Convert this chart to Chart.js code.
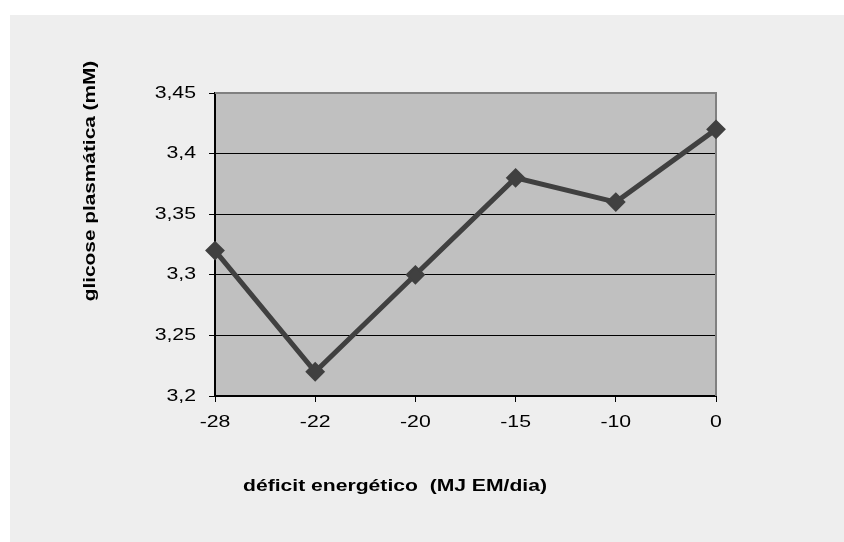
<!DOCTYPE html>
<html>
<head>
<meta charset="utf-8">
<script src="https://cdn.jsdelivr.net/npm/chart.js@4/dist/chart.umd.min.js"></script>
<style>
  html, body { margin: 0; padding: 0; background: #ffffff; }
  #panel { position: absolute; left: 10px; top: 15px; width: 834px; height: 527px; background: #eeeeee; }
</style>
</head>
<body>
<div id="panel"><canvas id="chart" width="834" height="527"></canvas></div>
<script>
const categories = ['-28', '-22', '-20', '-15', '-10', '0'];
const glucoseValues = [3.32, 3.22, 3.30, 3.38, 3.36, 3.42];
const yTitle = 'glicose plasmática (mM)';
const xTitle = 'déficit energético  (MJ EM/dia)';

const FONT = '"Liberation Sans", Arial, sans-serif';
// the source font is noticeably wider than Arial, so text is stretched sideways
const STRETCH = 1.25;

const fmtTick = (v) => String(Math.round(v * 100) / 100).replace('.', ',');

const drawWide = (ctx, text, x, y, align, stretch) => {
  ctx.save();
  ctx.translate(x, y);
  ctx.scale(stretch, 1);
  ctx.textAlign = align;
  ctx.fillText(text, 0, 0);
  ctx.restore();
};

const plotBackground = {
  id: 'plotBackground',
  beforeDraw(chart) {
    const { ctx, chartArea: a } = chart;
    ctx.save();
    ctx.fillStyle = '#c0c0c0';
    ctx.fillRect(a.left, a.top, a.right - a.left, a.bottom - a.top);
    ctx.restore();
  },
  beforeDatasetsDraw(chart) {
    const { ctx, chartArea: a } = chart;
    ctx.save();
    ctx.strokeStyle = '#808080';
    ctx.lineWidth = 2;
    ctx.beginPath();
    ctx.moveTo(a.left, a.top);
    ctx.lineTo(a.right, a.top);
    ctx.lineTo(a.right, a.bottom);
    ctx.stroke();
    ctx.restore();
  },
};

const textLayer = {
  id: 'textLayer',
  afterDraw(chart) {
    const { ctx, scales } = chart;
    ctx.save();
    ctx.fillStyle = '#000000';
    ctx.textBaseline = 'middle';

    ctx.font = '17px ' + FONT;
    scales.y.ticks.forEach((t, i) => {
      drawWide(ctx, fmtTick(t.value), 186, scales.y.getPixelForTick(i), 'right', STRETCH);
    });
    scales.x.ticks.forEach((t, i) => {
      drawWide(ctx, categories[t.value], scales.x.getPixelForTick(i), 407, 'center', STRETCH);
    });

    ctx.font = 'bold 16px ' + FONT;
    drawWide(ctx, xTitle, 385, 472, 'center', 1.32);
    ctx.translate(81, 166);
    ctx.rotate(-Math.PI / 2);
    drawWide(ctx, yTitle, 0, 0, 'center', 1.3);
    ctx.restore();
  },
};

new Chart(document.getElementById('chart'), {
  type: 'line',
  data: {
    labels: categories,
    datasets: [{
      data: glucoseValues,
      borderColor: '#404040',
      backgroundColor: '#404040',
      borderWidth: 5,
      pointStyle: 'rectRot',
      pointRadius: 8.5,
      pointBorderWidth: 2,
      pointBackgroundColor: '#404040',
      pointBorderColor: '#404040',
      tension: 0,
      clip: false,
    }],
  },
  options: {
    responsive: false,
    animation: false,
    layout: { padding: { left: 0, top: 78, right: 128, bottom: 0 } },
    plugins: {
      legend: { display: false },
      tooltip: { enabled: false },
    },
    scales: {
      x: {
        offset: false,
        afterFit: (scale) => { scale.height = 146; },
        grid: {
          drawOnChartArea: false,
          tickLength: 6,
          tickColor: '#000000',
        },
        border: { color: '#000000', width: 2 },
        ticks: {
          color: 'rgba(0,0,0,0)',
          font: { family: FONT, size: 17 },
          maxRotation: 0,
        },
      },
      y: {
        min: 3.2,
        max: 3.45,
        afterFit: (scale) => { scale.width = 205; },
        grid: {
          color: (c) => (c.index === 0 || c.index === 5 ? 'rgba(0,0,0,0)' : '#000000'),
          lineWidth: 1,
          borderDash: [2, 2],
          tickLength: 6,
          tickColor: '#000000',
        },
        border: { color: '#000000', width: 2 },
        ticks: {
          stepSize: 0.05,
          color: 'rgba(0,0,0,0)',
          font: { family: FONT, size: 17 },
          callback: fmtTick,
        },
      },
    },
  },
  plugins: [plotBackground, textLayer],
});
</script>
</body>
</html>
